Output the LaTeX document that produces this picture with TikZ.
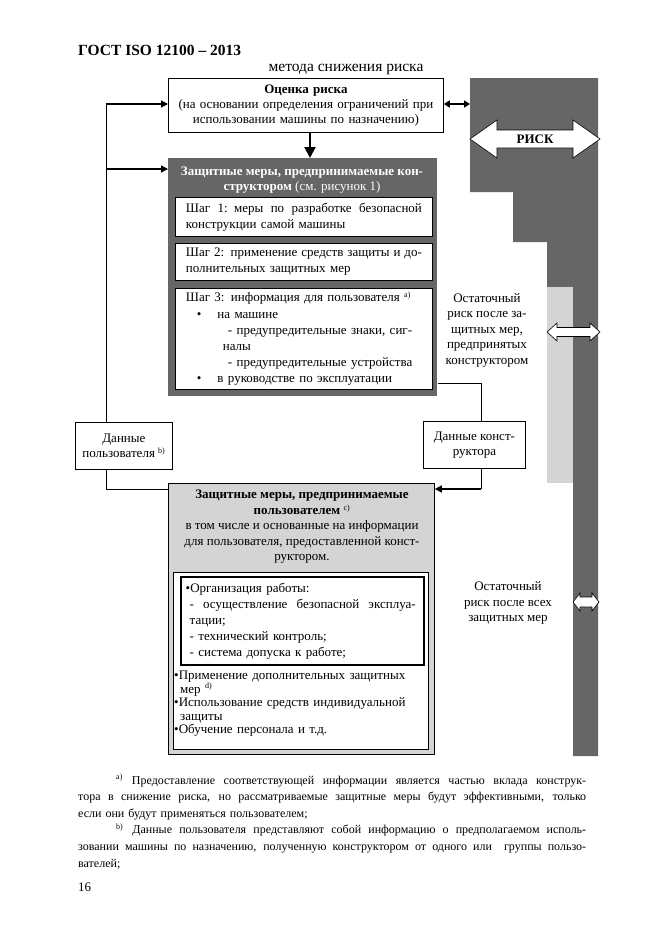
\documentclass[tikz,border=0pt]{standalone}
\usepackage{fontspec}
\setmainfont{Liberation Serif}
\usetikzlibrary{arrows.meta}

% justified line of a given width
\newcommand\jl[2]{\leavevmode\hbox to #1{\spaceskip=0.25em plus 1fil\relax #2}}
\newcommand\fn[1]{\textsuperscript{\fontsize{8}{8}\selectfont #1}}

\begin{document}
\begin{tikzpicture}[x=1pt,y=-1pt,
    every node/.style={inner sep=0pt,font=\fontsize{13}{15}\selectfont},
    box/.style={draw,line width=0.8pt,anchor=north west},
    conn/.style={line width=0.8pt},
    arr/.style={line width=1.3pt,-{Triangle[length=7pt,width=7pt]}},
    riskarrow/.style={draw=black,fill=white,line width=0.6pt}]
  \useasboundingbox[fill=white] (0,0) rectangle (661,935);

  % header
  \node[anchor=west,font=\fontsize{15.5}{17}\bfseries] (head) at (78,50) {ГОСТ ISO 12100 – 2013};
  \node[font=\fontsize{15.5}{17}\selectfont] (cont) at (346,69) {метода снижения риска};

  % risk bar on the right
  \fill[black!60] (470,78) -- (598,78) -- (598,756) -- (573,756) -- (573,287)
    -- (547,287) -- (547,242) -- (513,242) -- (513,192) -- (470,192) -- cycle;
  \fill[black!17] (547,287) rectangle (573,483);
  \coordinate (bar) at (470,104);
  \filldraw[riskarrow] (470,139) -- (497,120) -- (497,130) -- (573,130) -- (573,120) -- (600,139)
    -- (573,158) -- (573,148) -- (497,148) -- (497,158) -- cycle;
  \node[font=\fontsize{13}{15}\bfseries] (risk label) at (535,139) {РИСК};
  \filldraw[riskarrow] (547,332) -- (557,323) -- (557,327.5) -- (590,327.5) -- (590,323) -- (600,332)
    -- (590,341) -- (590,336.5) -- (557,336.5) -- (557,341) -- cycle;
  \filldraw[riskarrow] (573,602) -- (580,593) -- (580,597) -- (592,597) -- (592,593) -- (599,602)
    -- (592,611) -- (592,607) -- (580,607) -- (580,611) -- cycle;

  % designer side
  \node[box,minimum width=275,minimum height=54,text width=265,align=center] (risk) at (168,78)
    {\textbf{Оценка риска}\\(на основании определения ограничений при\\использовании машины по назначению)};
  \node[box,draw=none,fill=black!60,minimum width=269,minimum height=238] (designer) at (168,158) {};
  \node[text=white,align=center] (dtitle) at (302,180)
    {\textbf{Защитные меры, предпринимаемые кон-}\\\textbf{структором} (см. рисунок 1)};
  \node[box,fill=white,minimum width=257,minimum height=39,text width=236,align=left,
    font=\fontsize{13}{16}\selectfont] (step1) at (175,197)
    {\jl{236pt}{Шаг 1: меры по разработке безопасной}\\конструкции самой машины};
  \node[box,fill=white,minimum width=257,minimum height=37,text width=236,align=left,
    font=\fontsize{13}{16}\selectfont] (step2) at (175,243)
    {\jl{236pt}{Шаг 2: применение средств защиты и до-}\\полнительных защитных мер};
  \node[box,fill=white,minimum width=257,minimum height=101,text width=236,align=left,
    font=\fontsize{13}{16.2}\selectfont] (step3) at (175,288)
    {\jl{214pt}{Шаг 3: информация для пользователя}\ \fn{a)}\\
     \hspace*{11pt}\textbullet\hspace{16pt}на машине\\
     \hspace*{42pt}- предупредительные знаки, сиг-\\
     \hspace*{37pt}налы\\
     \hspace*{42pt}- предупредительные устройства\\
     \hspace*{11pt}\textbullet\hspace{16pt}в руководстве по эксплуатации};

  % data boxes
  \node[box,minimum width=97,minimum height=47,align=center] (udata) at (75,422)
    {Данные\\пользователя \fn{b)}};
  \node[box,minimum width=102,minimum height=47,align=center] (cdata) at (423,421)
    {Данные конст-\\руктора};

  % user side
  \node[box,fill=black!17,minimum width=266,minimum height=271] (umeas) at (168,483) {};
  \node[align=center,font=\fontsize{13}{15.5}\selectfont] (utitle) at (302,527)
    {\textbf{Защитные меры, предпринимаемые}\\\textbf{пользователем} \fn{c)}\\
     в том числе и основанные на информации\\для пользователя, предоставленной конст-\\руктором.};
  \node[box,fill=white,minimum width=255,minimum height=177] (uinner) at (173,572) {};
  \node[box,line width=2.4pt,minimum width=243,minimum height=88,text width=234,align=left,
    font=\fontsize{13}{15.8}\selectfont] (uorg) at (180,576)
    {\textbullet Организация работы:\\
     \jl{230pt}{\hspace*{4pt}- осуществление безопасной эксплуа-}\\
     \hspace*{4pt}тации;\\
     \hspace*{4pt}- технический контроль;\\
     \hspace*{4pt}- система допуска к работе;};
  \node[anchor=north west,text width=250,align=left,font=\fontsize{13}{13.5}\selectfont] (uextra) at (174,671)
    {\textbullet Применение дополнительных защитных\\
     \hspace*{6pt}мер \fn{d)}\\
     \textbullet Использование средств индивидуальной\\
     \hspace*{6pt}защиты\\
     \textbullet Обучение персонала и т.д.};

  % residual risk texts
  \node[align=center,font=\fontsize{13}{15.5}\selectfont] (rest1) at (487,330)
    {Остаточный\\риск после за-\\щитных мер,\\предпринятых\\конструктором};
  \node[align=center,font=\fontsize{13}{15.5}\selectfont] (rest2) at (508,603)
    {Остаточный\\риск после всех\\защитных мер};

  % connectors
  \coordinate (lturn) at (106,489);
  \coordinate (ltop) at (106,104);
  \coordinate (rturn) at (481,383);
  \draw[line width=2pt,-{Triangle[length=11pt,width=11pt]}] (risk.south -| 310,0) -- (designer.north -| 310,0);
  \draw[line width=1.5pt,{Triangle[length=6pt,width=7pt]}-{Triangle[length=6pt,width=7pt]}] (risk.east |- bar) -- (bar);
  \draw[conn] (umeas.west |- lturn) -- (lturn) -- (lturn |- udata.south);
  \draw[conn] (lturn |- udata.north) -- (ltop);
  \draw[arr] (ltop) -- (risk.west |- ltop);
  \draw[arr] (ltop |- 0,169) -- (designer.west |- 0,169);
  \draw[conn] (designer.east |- rturn) -- (rturn) -- (rturn |- cdata.north);
  \draw[conn] (rturn |- cdata.south) -- (rturn |- lturn);
  \draw[arr] (rturn |- lturn) -- (umeas.east |- lturn);

  % footnotes
  \node[anchor=north west,text width=508,align=left,font=\fontsize{12}{16.6}\selectfont] (notes) at (78,774)
    {\jl{508pt}{\hspace*{38pt}\fn{a)}\hspace{9pt}Предоставление соответствующей информации является частью вклада конструк-}\\
     \jl{508pt}{тора в снижение риска, но рассматриваемые защитные меры будут эффективными, только}\\
     если они будут применяться пользователем;\\
     \jl{508pt}{\hspace*{38pt}\fn{b)}\hspace{9pt}Данные пользователя представляют собой информацию о предполагаемом исполь-}\\
     \jl{508pt}{зовании машины по назначению, полученную конструктором от одного или\ \ группы пользо-}\\
     вателей;};
  \node[anchor=west] (page) at (78,887) {16};
\end{tikzpicture}
\end{document}
